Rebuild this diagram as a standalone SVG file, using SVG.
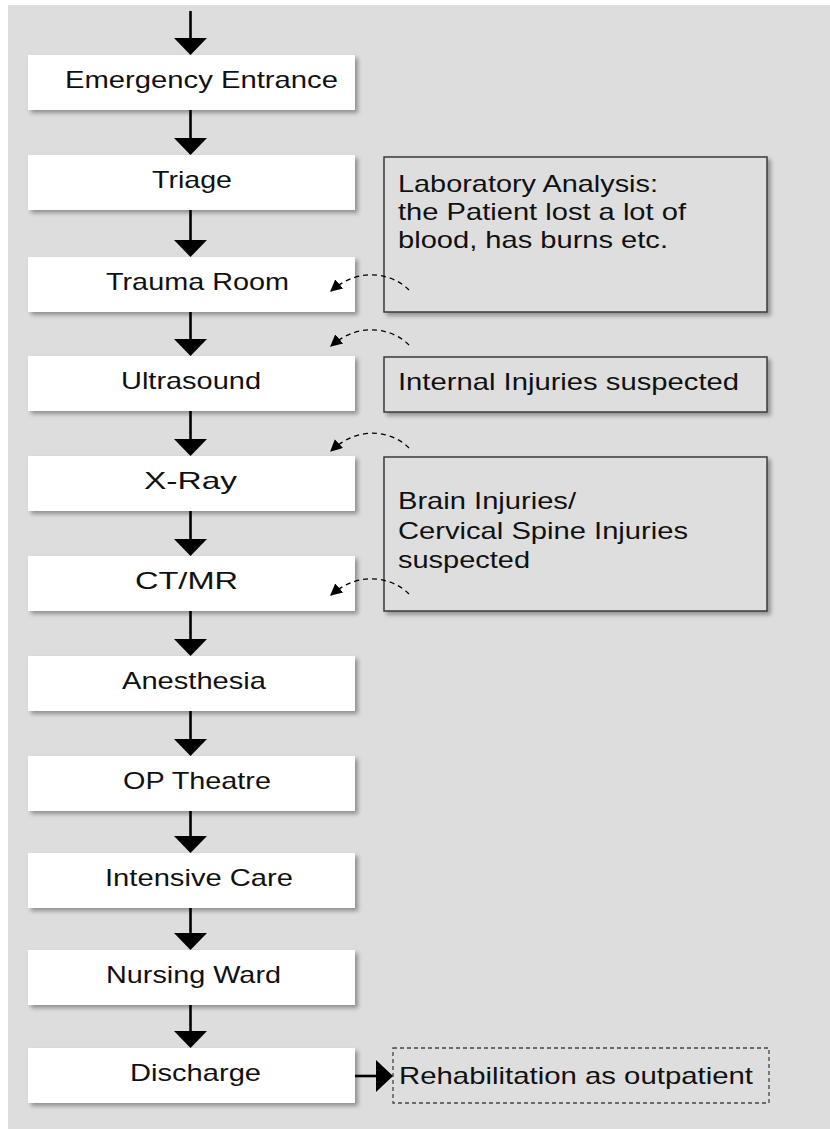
<svg xmlns="http://www.w3.org/2000/svg" width="830" height="1129" viewBox="0 0 830 1129">
<defs>
<filter id="sh" x="-10%" y="-20%" width="130%" height="160%">
<feDropShadow dx="3" dy="3" stdDeviation="2" flood-color="#000" flood-opacity="0.35"/>
</filter>
<marker id="dh" viewBox="0 0 10 10" refX="9" refY="5" markerWidth="12" markerHeight="12" markerUnits="userSpaceOnUse" orient="auto">
<path d="M0,0 L10,5 L0,10 z" fill="#000"/>
</marker>
<style>
.node{fill:#ffffff;filter:url(#sh)}
.note{fill:#dedede;stroke:#3a3a3a;stroke-width:1.5;filter:url(#sh)}
.dnote{fill:#dedede;stroke:#444;stroke-width:1.3;stroke-dasharray:4 3}
.t{font-family:"Liberation Sans",Arial,sans-serif;font-size:24px;fill:#111}
.ln{stroke:#000;stroke-width:2.6;fill:none}
.hd{fill:#000}
.cv{stroke:#000;stroke-width:1.3;fill:none;stroke-dasharray:5 4}
</style>
</defs>
<rect x="8" y="5" width="822" height="1124" fill="#dddddd"/>

<g id="n-emergency"><rect class="node" x="28" y="55" width="327" height="55"/><text class="t" transform="translate(65,88) scale(1.25,1)" textLength="218.4" lengthAdjust="spacingAndGlyphs">Emergency Entrance</text></g>
<g id="n-triage"><rect class="node" x="28" y="155" width="327" height="55"/><text class="t" transform="translate(152,188) scale(1.25,1)" textLength="64" lengthAdjust="spacingAndGlyphs">Triage</text></g>
<g id="n-trauma"><rect class="node" x="28" y="257" width="327" height="55"/><text class="t" transform="translate(106,290) scale(1.25,1)" textLength="146.4" lengthAdjust="spacingAndGlyphs">Trauma Room</text></g>
<g id="n-ultrasound"><rect class="node" x="28" y="356" width="327" height="55"/><text class="t" transform="translate(121,389) scale(1.25,1)" textLength="112" lengthAdjust="spacingAndGlyphs">Ultrasound</text></g>
<g id="n-xray"><rect class="node" x="28" y="456" width="327" height="55"/><text class="t" transform="translate(144,489) scale(1.25,1)" textLength="74.4" lengthAdjust="spacingAndGlyphs">X-Ray</text></g>
<g id="n-ctmr"><rect class="node" x="28" y="556" width="327" height="55"/><text class="t" transform="translate(135,589) scale(1.25,1)" textLength="82.4" lengthAdjust="spacingAndGlyphs">CT/MR</text></g>
<g id="n-anesthesia"><rect class="node" x="28" y="656" width="327" height="55"/><text class="t" transform="translate(122,689) scale(1.25,1)" textLength="115.2" lengthAdjust="spacingAndGlyphs">Anesthesia</text></g>
<g id="n-op"><rect class="node" x="28" y="756" width="327" height="55"/><text class="t" transform="translate(123,789) scale(1.25,1)" textLength="118.4" lengthAdjust="spacingAndGlyphs">OP Theatre</text></g>
<g id="n-icu"><rect class="node" x="28" y="853" width="327" height="55"/><text class="t" transform="translate(105,886) scale(1.25,1)" textLength="150.4" lengthAdjust="spacingAndGlyphs">Intensive Care</text></g>
<g id="n-ward"><rect class="node" x="28" y="950" width="327" height="55"/><text class="t" transform="translate(106,983) scale(1.25,1)" textLength="140" lengthAdjust="spacingAndGlyphs">Nursing Ward</text></g>
<g id="n-discharge"><rect class="node" x="28" y="1048" width="327" height="55"/><text class="t" transform="translate(130,1081) scale(1.25,1)" textLength="104.8" lengthAdjust="spacingAndGlyphs">Discharge</text></g>

<g id="note-lab"><rect class="note" x="384" y="157" width="383" height="155"/>
<text class="t" transform="translate(398,192) scale(1.25,1)" textLength="208" lengthAdjust="spacingAndGlyphs">Laboratory Analysis:</text>
<text class="t" transform="translate(398,220) scale(1.25,1)" textLength="230.4" lengthAdjust="spacingAndGlyphs">the Patient lost a lot of</text>
<text class="t" transform="translate(398,248) scale(1.25,1)" textLength="216" lengthAdjust="spacingAndGlyphs">blood, has burns etc.</text></g>
<g id="note-internal"><rect class="note" x="384" y="357" width="383" height="55"/>
<text class="t" transform="translate(398,390) scale(1.25,1)" textLength="272.8" lengthAdjust="spacingAndGlyphs">Internal Injuries suspected</text></g>
<g id="note-brain"><rect class="note" x="384" y="457" width="383" height="154"/>
<text class="t" transform="translate(398,509) scale(1.25,1)" textLength="142.4" lengthAdjust="spacingAndGlyphs">Brain Injuries/</text>
<text class="t" transform="translate(398,539) scale(1.25,1)" textLength="232" lengthAdjust="spacingAndGlyphs">Cervical Spine Injuries</text>
<text class="t" transform="translate(398,568) scale(1.25,1)" textLength="105.6" lengthAdjust="spacingAndGlyphs">suspected</text></g>
<g id="note-rehab"><rect class="dnote" x="393" y="1048" width="376" height="55"/>
<text class="t" transform="translate(399,1084) scale(1.25,1)" textLength="283.2" lengthAdjust="spacingAndGlyphs">Rehabilitation as outpatient</text></g>

<g id="connectors">
<line class="ln" x1="190.5" y1="11" x2="190.5" y2="39"/><path class="hd" d="M174,38 L207,38 L190.5,55 z"/>
<line class="ln" x1="190.5" y1="110" x2="190.5" y2="139"/><path class="hd" d="M174,138 L207,138 L190.5,155 z"/>
<line class="ln" x1="190.5" y1="210" x2="190.5" y2="241"/><path class="hd" d="M174,240 L207,240 L190.5,257 z"/>
<line class="ln" x1="190.5" y1="312" x2="190.5" y2="340"/><path class="hd" d="M174,339 L207,339 L190.5,356 z"/>
<line class="ln" x1="190.5" y1="411" x2="190.5" y2="440"/><path class="hd" d="M174,439 L207,439 L190.5,456 z"/>
<line class="ln" x1="190.5" y1="511" x2="190.5" y2="540"/><path class="hd" d="M174,539 L207,539 L190.5,556 z"/>
<line class="ln" x1="190.5" y1="611" x2="190.5" y2="640"/><path class="hd" d="M174,639 L207,639 L190.5,656 z"/>
<line class="ln" x1="190.5" y1="711" x2="190.5" y2="740"/><path class="hd" d="M174,739 L207,739 L190.5,756 z"/>
<line class="ln" x1="190.5" y1="811" x2="190.5" y2="837"/><path class="hd" d="M174,836 L207,836 L190.5,853 z"/>
<line class="ln" x1="190.5" y1="908" x2="190.5" y2="934"/><path class="hd" d="M174,933 L207,933 L190.5,950 z"/>
<line class="ln" x1="190.5" y1="1005" x2="190.5" y2="1032"/><path class="hd" d="M174,1031 L207,1031 L190.5,1048 z"/>
<line class="ln" x1="355" y1="1076" x2="377" y2="1076"/><path class="hd" d="M376,1060 L376,1092 L393,1076 z"/>
<path class="cv" d="M409,290 C396,276 362,264 331,291" marker-end="url(#dh)"/>
<path class="cv" d="M409,345 C396,331 362,319 331,346" marker-end="url(#dh)"/>
<path class="cv" d="M409,448 C396,434 362,422 331,451" marker-end="url(#dh)"/>
<path class="cv" d="M409,594 C396,580 362,568 331,595" marker-end="url(#dh)"/>
</g>
</svg>
